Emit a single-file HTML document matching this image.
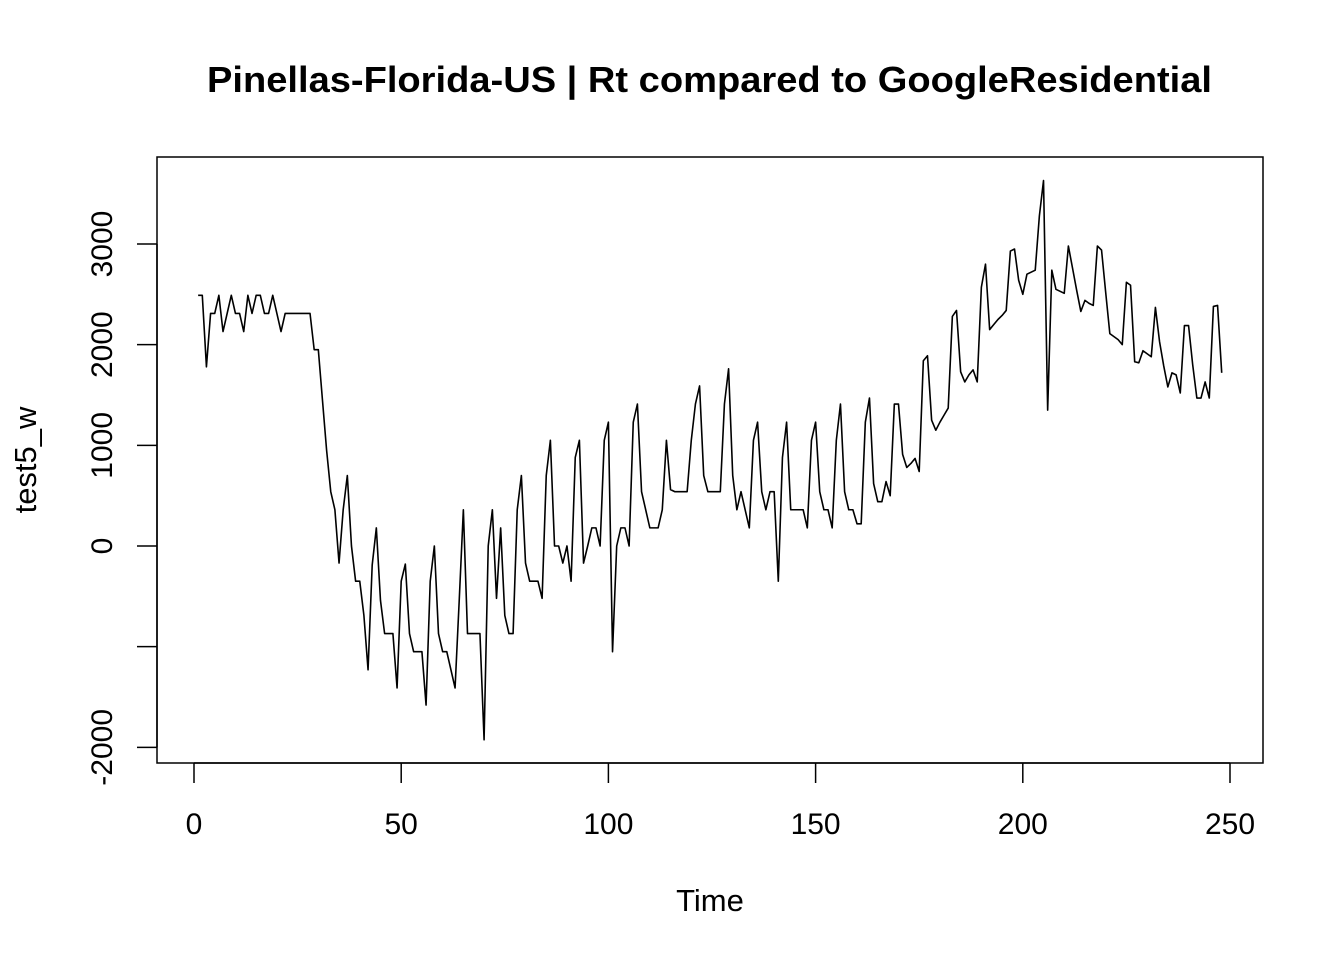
<!DOCTYPE html>
<html><head><meta charset="utf-8"><style>
html,body{margin:0;padding:0;background:#fff;}
svg{display:block;font-family:"Liberation Sans",Arial,sans-serif;}
</style></head><body>
<svg id="chart" width="1344" height="960" viewBox="0 0 1344 960">
<rect width="1344" height="960" fill="#fff"/>
<text x="207" y="92" textLength="1005" lengthAdjust="spacingAndGlyphs" font-size="36" font-weight="bold">Pinellas-Florida-US | Rt compared to GoogleResidential</text>
<rect x="157" y="157" width="1106" height="606" fill="none" stroke="#000" stroke-width="1.5"/>
<g id="xaxis"></g>
<g id="yaxis"></g>
<text x="710" y="911" text-anchor="middle" font-size="31">Time</text>
<text transform="translate(36,460) rotate(-90)" text-anchor="middle" font-size="31">test5_w</text>
<g id="series"></g>
</svg>
<script>
const xTicks = [0, 50, 100, 150, 200, 250];
const yTicks = [-2000, -1000, 0, 1000, 2000, 3000];
const yTickLabels = ["-2000", "", "0", "1000", "2000", "3000"];
const values = [
2490,2490,1780,2310,2310,2490,2130,2310,2490,2310,
2310,2130,2490,2310,2490,2490,2310,2310,2490,2310,
2130,2310,2310,2310,2310,2310,2310,2310,1950,1950,
1450,950,540,360,-170,360,700,0,-350,-350,
-690,-1230,-190,180,-540,-870,-870,-870,-1410,-350,
-180,-870,-1050,-1050,-1050,-1580,-350,0,-870,-1050,
-1050,-1230,-1410,-540,360,-870,-870,-870,-870,-1925,
0,360,-520,180,-690,-870,-870,360,700,-170,
-350,-350,-350,-520,700,1050,0,0,-170,0,
-350,880,1050,-170,0,180,180,0,1050,1230,
-1050,0,180,180,0,1230,1410,540,360,180,
180,180,360,1050,560,540,540,540,540,1050,
1410,1590,700,540,540,540,540,1410,1760,700,
360,540,360,180,1050,1230,540,360,540,540,
-350,880,1230,360,360,360,360,180,1050,1230,
540,360,360,180,1050,1410,540,360,360,220,
220,1230,1470,620,440,440,640,500,1410,1410,
910,780,820,870,740,1840,1890,1250,1150,1230,
1300,1370,2280,2340,1730,1630,1700,1750,1630,2570,
2800,2150,2200,2250,2290,2340,2930,2950,2640,2500,
2700,2720,2740,3280,3630,1350,2740,2550,2530,2510,
2980,2760,2540,2330,2440,2410,2390,2980,2940,2520,
2110,2080,2050,2000,2620,2590,1830,1820,1940,1910,
1880,2370,2030,1790,1580,1720,1700,1520,2190,2190,
1800,1470,1470,1630,1470,2380,2390,1720
];
const NS = "http://www.w3.org/2000/svg";
function xScale(t){ return 194 + t * (1230 - 194) / 250; }
function yScale(v){ return 546 - v * (546 - 244) / 3000; }
const xa = document.getElementById('xaxis');
const ya = document.getElementById('yaxis');
let l = document.createElementNS(NS,'line');
l.setAttribute('x1', xScale(xTicks[0])); l.setAttribute('x2', xScale(xTicks[xTicks.length-1]));
l.setAttribute('y1', 763); l.setAttribute('y2', 763); l.setAttribute('stroke','#000'); l.setAttribute('stroke-width','1.5');


xa.appendChild(l);
xTicks.forEach(t=>{
  const tk = document.createElementNS(NS,'line');
  tk.setAttribute('x1', xScale(t)); tk.setAttribute('x2', xScale(t)); tk.setAttribute('y1', 763); tk.setAttribute('y2', 783);
  tk.setAttribute('stroke','#000'); tk.setAttribute('stroke-width','1.5');
  
  
  xa.appendChild(tk);
  const tx = document.createElementNS(NS,'text');
  tx.setAttribute('x', xScale(t)); tx.setAttribute('y', 834); tx.setAttribute('text-anchor','middle'); tx.setAttribute('font-size','30');
  tx.textContent = t;
  
  
  xa.appendChild(tx);
});
l = document.createElementNS(NS,'line');
l.setAttribute('x1', 157); l.setAttribute('x2', 157);
l.setAttribute('y1', yScale(yTicks[0])); l.setAttribute('y2', yScale(yTicks[yTicks.length-1])); l.setAttribute('stroke','#000'); l.setAttribute('stroke-width','1.5');


ya.appendChild(l);
yTicks.forEach((v,i)=>{
  const tk = document.createElementNS(NS,'line');
  tk.setAttribute('x1', 137); tk.setAttribute('x2', 157); tk.setAttribute('y1', yScale(v)); tk.setAttribute('y2', yScale(v));
  tk.setAttribute('stroke','#000'); tk.setAttribute('stroke-width','1.5');
  
  
  ya.appendChild(tk);
  if (yTickLabels[i]) {
    const tx = document.createElementNS(NS,'text');
    tx.setAttribute('transform', 'translate(112,' + yScale(v) + ') rotate(-90)');
    tx.setAttribute('text-anchor','middle'); tx.setAttribute('font-size','30');
    tx.textContent = yTickLabels[i];
    
    
    ya.appendChild(tx);
  }
});
const pts = values.map((v,i)=> xScale(i+1).toFixed(2) + ',' + yScale(v).toFixed(2)).join(' ');
const pl = document.createElementNS(NS,'polyline');
pl.setAttribute('points', pts); pl.setAttribute('fill','none'); pl.setAttribute('stroke','#000'); pl.setAttribute('stroke-width','1.6');
pl.setAttribute('stroke-linejoin','round');


document.getElementById('series').appendChild(pl);
</script>
</body></html>
